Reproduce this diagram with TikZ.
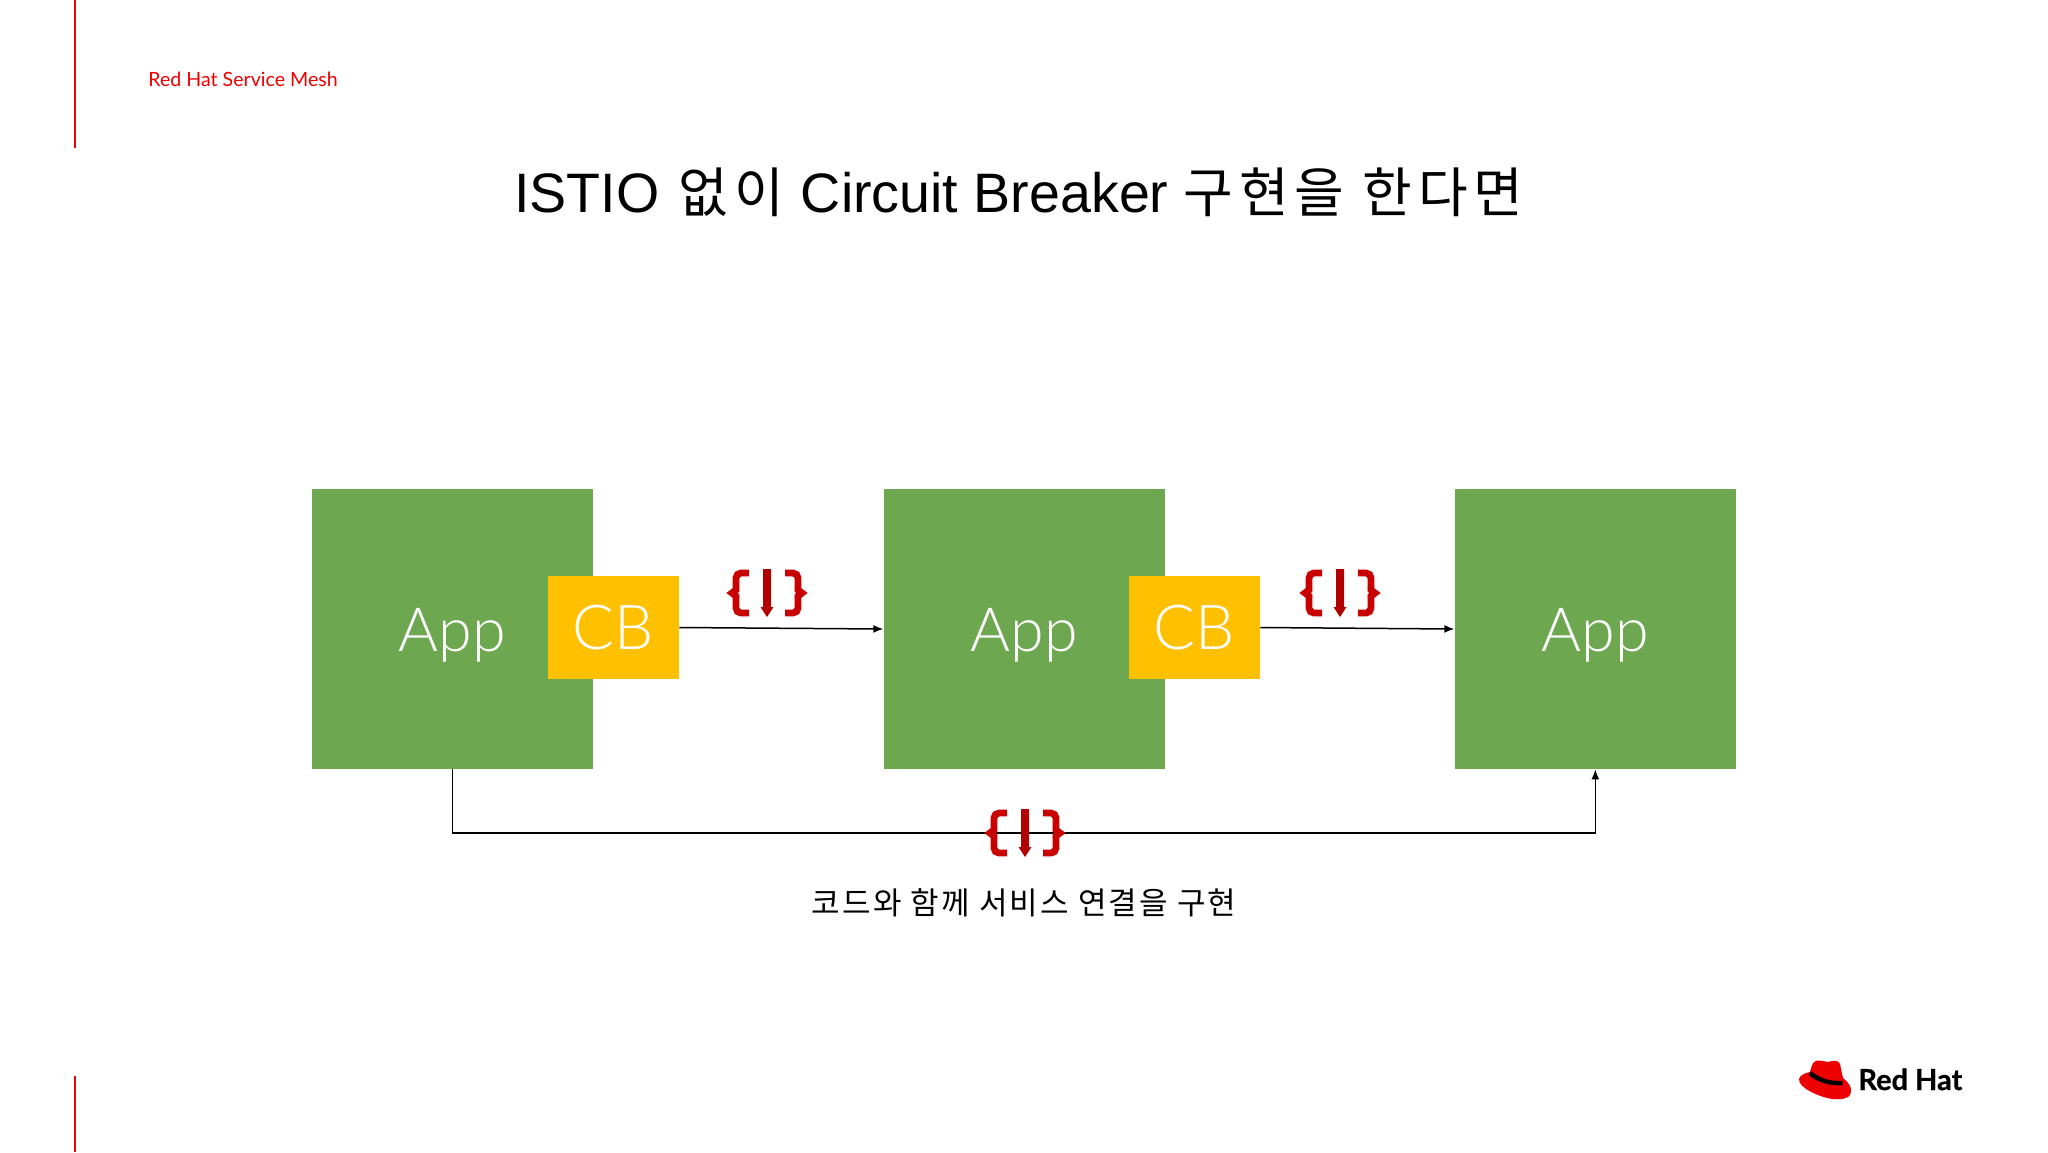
\documentclass[tikz,border=0pt]{standalone}
\usepackage{fontspec}
\setmainfont{Liberation Sans}
\newfontfamily\cjk[LetterSpace=11]{Noto Sans CJK KR}
\newfontfamily\cjkcap[LetterSpace=7]{Noto Sans CJK KR}
\newfontfamily\lat{Lato}
\newfontfamily\latl{Lato Light}
\newfontfamily\rhf[FakeBold=0.6]{Lato Bold}
\usetikzlibrary{arrows.meta,calc}
\definecolor{appgreen}{HTML}{6DA850}
\definecolor{cbyellow}{HTML}{FFC000}
\definecolor{rhred}{HTML}{EE0000}
\definecolor{icored}{HTML}{C80000}
\tikzset{
  appbox/.style={fill=appgreen,minimum width=140.6pt,minimum height=140pt,inner sep=0pt,text=white},
  cbbox/.style={fill=cbyellow,minimum width=65.5pt,minimum height=51.5pt,inner sep=0pt,text=white,font=\latl\fontsize{31}{36}\selectfont},
  applabel/.style={text=white,inner sep=0pt,font=\latl\fontsize{30.5}{36}\selectfont},
  link/.style={draw=black,line width=0.75pt,-{Latex[length=5pt,width=4pt]}},
  redbar/.style={draw=rhred,line width=0.7pt},
  pics/codeicon/.style={code={
    \draw[icored,line width=3.4pt,rounded corners=2.5pt] (-18,-20) -- (-31,-20) -- (-31,-4);
    \draw[icored,line width=3.4pt,rounded corners=2.5pt] (-18,20) -- (-31,20) -- (-31,4);
    \draw[icored,line width=3.4pt,miter limit=3] (-31,-5) -- (-31,-3) -- (-35,0) -- (-31,3) -- (-31,5);
    \draw[icored,line width=3.4pt,rounded corners=2.5pt] (18,-20) -- (31,-20) -- (31,-4);
    \draw[icored,line width=3.4pt,rounded corners=2.5pt] (18,20) -- (31,20) -- (31,4);
    \draw[icored,line width=3.4pt,miter limit=3] (31,-5) -- (31,-3) -- (35,0) -- (31,3) -- (31,5);
    \fill[icored!88!black] (-4,-24) -- (4,-24) -- (4,14) -- (6.5,14) -- (0,24) -- (-6.5,14) -- (-4,14) -- cycle;
  }}
}
\begin{document}
\begin{tikzpicture}[x=0.5pt,y=-0.5pt]
\useasboundingbox (0,0) rectangle (2048,1152);
\fill[white!99.5!green] (0,0) rectangle (2048,1152);
\draw[redbar] (75,0) -- (75,148);
\draw[redbar] (75,1076) -- (75,1152);
\node[anchor=base west,inner sep=0pt,text=rhred,font=\lat\fontsize{9.8}{12}\selectfont] (hdr) at (148,86) {Red Hat Service Mesh};
\node[anchor=base west,inner sep=0pt,font=\fontsize{27.8}{34}\selectfont] (title) at (514,212) {ISTIO\hspace{9.5pt}{\fontsize{27}{34}\selectfont\cjk 없이}\hspace{8.5pt}Circuit Breaker\hspace{7.5pt}{\fontsize{27}{34}\selectfont\cjk 구현을 한다면}};
\node[appbox] (a1) at (452.3,629) {};
\node[appbox] (a2) at (1024.3,629) {};
\node[appbox] (a3) at (1595.3,629) {};
\node[applabel,yshift=-3pt] (t1) at (a1) {App};
\node[applabel,yshift=-3pt] (t2) at (a2) {App};
\node[applabel,yshift=-3pt] (t3) at (a3) {App};
\node[cbbox] (c1) at (613.5,627.5) {CB};
\node[cbbox] (c2) at (1194.5,627.5) {CB};
\draw[link] (c1.east) -- (a2.west);
\draw[link] (c2.east) -- (a3.west);
\coordinate (mid) at (1025,833);
\draw[link] (a1.south) |- (mid) -| (a3.south);
\pic at (767,593) {codeicon};
\pic at (1340,593) {codeicon};
\pic at (1025,833) {codeicon};
\node[anchor=base,inner sep=0pt,font=\cjkcap\fontsize{15.5}{18}\selectfont] (cap) at (1024,914) {코드와 함께 서비스 연결을 구현};
% hat
\fill[rhred] (1799,1079) .. controls (1800,1075) and (1805,1073) .. (1810,1072)
  .. controls (1811,1068) and (1812,1064) .. (1814,1062)
  .. controls (1817,1059) and (1822,1061) .. (1828,1062)
  .. controls (1832,1061) and (1838,1059) .. (1840,1064)
  .. controls (1841,1069) and (1842,1074) .. (1843,1078)
  .. controls (1848,1082) and (1852,1087) .. (1851,1092)
  .. controls (1851,1098) and (1842,1100) .. (1832,1099)
  .. controls (1820,1097) and (1798,1088) .. (1799,1079) -- cycle;
\draw[black,line width=2.2pt] (1810,1073) .. controls (1818,1080) and (1830,1084) .. (1842.5,1083);
\node[anchor=base west,inner sep=0pt,font=\rhf\fontsize{14.5}{18}\selectfont] (rh) at (1858,1090) {Red Hat};
\end{tikzpicture}
\end{document}
